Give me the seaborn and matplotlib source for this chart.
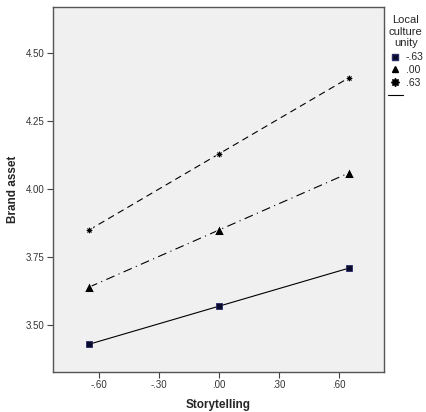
import matplotlib
matplotlib.use('Agg')
import matplotlib.pyplot as plt
from matplotlib.lines import Line2D
import seaborn as sns
import pandas as pd

storytelling = [-0.65, 0.0, 0.65]
moderator_levels = ['-.63', '.00', '.63']
brand_low = [3.43, 3.57, 3.71]
brand_mid = [3.64, 3.85, 4.06]
brand_high = [3.85, 4.13, 4.41]

xtick_vals = [-0.6, -0.3, 0.0, 0.3, 0.6]
xtick_labels = ['-.60', '-.30', '.00', '.30', '.60']
ytick_vals = [3.50, 3.75, 4.00, 4.25, 4.50]
ytick_labels = ['3.50', '3.75', '4.00', '4.25', '4.50']

rows = []
for lvl, vals in zip(moderator_levels, [brand_low, brand_mid, brand_high]):
    for x, y in zip(storytelling, vals):
        rows.append({'Storytelling': x, 'Brand asset': y, 'Local culture unity': lvl})
df = pd.DataFrame(rows)

sns.set_style('white')
plt.rcParams['font.family'] = ['Liberation Sans', 'DejaVu Sans']

fig = plt.figure(figsize=(4.26, 4.12), dpi=100)
ax = fig.add_axes([53 / 426, 1 - 372 / 412, (384 - 53) / 426, (372 - 7) / 412])
ax.set_facecolor('#f0f0f0')

star = (8, 1, 0)
markers = {'-.63': 's', '.00': '^', '.63': star}
dashes = {'-.63': '', '.00': (8, 4, 1, 4), '.63': (6, 4)}
sns.lineplot(data=df, x='Storytelling', y='Brand asset', style='Local culture unity',
             markers=markers, dashes=dashes, color='black', linewidth=0.8,
             legend=False, ax=ax)
# marker look per series
ax.lines[0].set_markerfacecolor('#0a0a2a')
ax.lines[0].set_markeredgecolor('#2a2a6a')
ax.lines[0].set_markersize(5)
ax.lines[1].set_markersize(6.5)
ax.lines[2].set_markersize(7)
for ln in ax.lines:
    ln.set_markeredgewidth(0.6)

ax.set_xlim(-0.83, 0.825)
ax.set_ylim(3.328, 4.67)
ax.set_xticks(xtick_vals)
ax.set_xticklabels(xtick_labels)
ax.set_yticks(ytick_vals)
ax.set_yticklabels(ytick_labels)
ax.tick_params(axis='both', direction='out', length=4, width=0.8, color='#444444',
               labelsize=7, labelcolor='#333333', pad=2, bottom=True, left=True)
for s in ax.spines.values():
    s.set_color('#555555')
    s.set_linewidth(1.0)

ax.set_xlabel('Storytelling', fontsize=8.5, fontweight='bold', labelpad=6)
ax.set_ylabel('Brand asset', fontsize=8.5, fontweight='bold', labelpad=5)

handles = [
    Line2D([], [], ls='', marker='s', markerfacecolor='#0a0a2a', markeredgecolor='#2a2a6a', markersize=4.5),
    Line2D([], [], ls='', marker='^', color='black', markersize=5),
    Line2D([], [], ls='', marker=star, color='black', markersize=6),
    Line2D([], [], ls='-', color='black', linewidth=0.8),
]
leg = fig.legend(handles, moderator_levels + [''], loc='upper left',
                 bbox_to_anchor=(388 / 426, 1 - 15 / 412), frameon=False,
                 fontsize=7.5, title='Local\nculture\nunity', title_fontsize=8,
                 handlelength=1.4, handletextpad=0.3, labelspacing=0.25,
                 borderaxespad=0, borderpad=0)
leg.get_title().set_multialignment('center')
leg._legend_box.sep = 3

fig.savefig('out.png', dpi=100)
